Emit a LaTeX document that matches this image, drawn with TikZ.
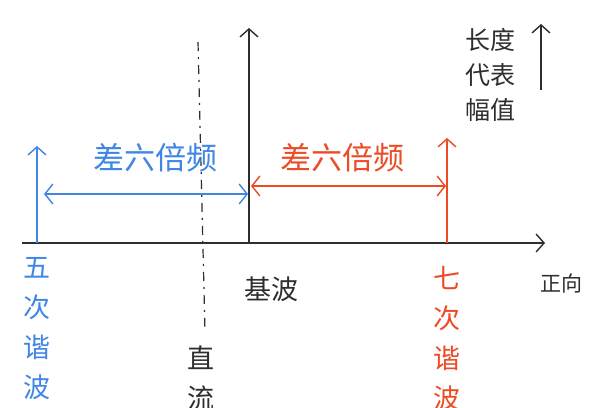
\documentclass[tikz,border=0pt]{standalone}
\usepackage{fontspec}
\newfontfamily\cjk{Noto Sans CJK SC}
\usetikzlibrary{arrows.meta}
\definecolor{hblue}{HTML}{3F86E6}
\definecolor{hred}{HTML}{EE4B25}
\definecolor{hblack}{HTML}{2E2E2E}
\tikzset{
  barb/.style={-{Straight Barb[length=8pt,width=18pt,line width=1.4pt]}},
  dbarb/.style={{Straight Barb[length=8pt,width=20pt,line width=1.4pt]}-{Straight Barb[length=8pt,width=20pt,line width=1.4pt]}},
  lbl/.style={font=\cjk\fontsize{31}{31}\selectfont, inner sep=0pt},
  vlbl/.style={font=\cjk\fontsize{27}{40}\selectfont, inner sep=0pt, align=center, anchor=north},
}
\begin{document}
\begin{tikzpicture}[x=1pt,y=-1pt]
\useasboundingbox[fill=white] (0,0) rectangle (601,407);
% coordinates
\coordinate (xs) at (22,243);
\coordinate (xe) at (545,243);
\coordinate (o) at (249,243);
\coordinate (yt) at (249,28);
\coordinate (b0) at (37,243);
\coordinate (bt) at (37,146);
\coordinate (r0) at (447,243);
\coordinate (rt) at (447,138);
\coordinate (bl) at (44,194);
\coordinate (br) at (248,194);
\coordinate (rl) at (251,186);
\coordinate (rr) at (446,186);
\coordinate (dt) at (198,42);
\coordinate (db) at (205,332);
\coordinate (ab) at (541,90);
\coordinate (at) at (541,24);
% axes
\draw[hblack, line width=1.6pt, barb] (xs) -- (xe);
\draw[hblack, line width=1.6pt, barb] (o) -- (yt);
\draw[hblack, line width=1.2pt, dash pattern=on 9pt off 6pt on 2pt off 6pt] (dt) -- (db);
\draw[hblack, line width=1.6pt, barb] (ab) -- (at);
% blue
\draw[hblue, line width=1.6pt, barb] (b0) -- (bt);
\draw[hblue, line width=1.6pt, dbarb] (bl) -- (br);
\node[lbl, hblue] (bt1) at (155,158) {差六倍频};
\node[vlbl, hblue] (b5) at (37,257) {五\\次\\谐\\波};
% red
\draw[hred, line width=1.6pt, barb] (r0) -- (rt);
\draw[hred, line width=1.6pt, dbarb] (rl) -- (rr);
\node[lbl, hred] (rt1) at (342,158) {差六倍频};
\node[vlbl, hred] (r7) at (447,266) {七\\次\\谐\\波};
% black labels
\node[lbl, hblack, font=\cjk\fontsize{27}{27}\selectfont] (jb) at (271,289) {基波};
\node[lbl, hblack, font=\cjk\fontsize{21}{21}\selectfont] (zx) at (561,283) {正向};
\node[vlbl, hblack, font=\cjk\fontsize{25}{35}\selectfont] (cd) at (490,28) {长度\\代表\\幅值};
\node[vlbl, hblack] (zl) at (201,346) {直\\流};
\end{tikzpicture}
\end{document}
